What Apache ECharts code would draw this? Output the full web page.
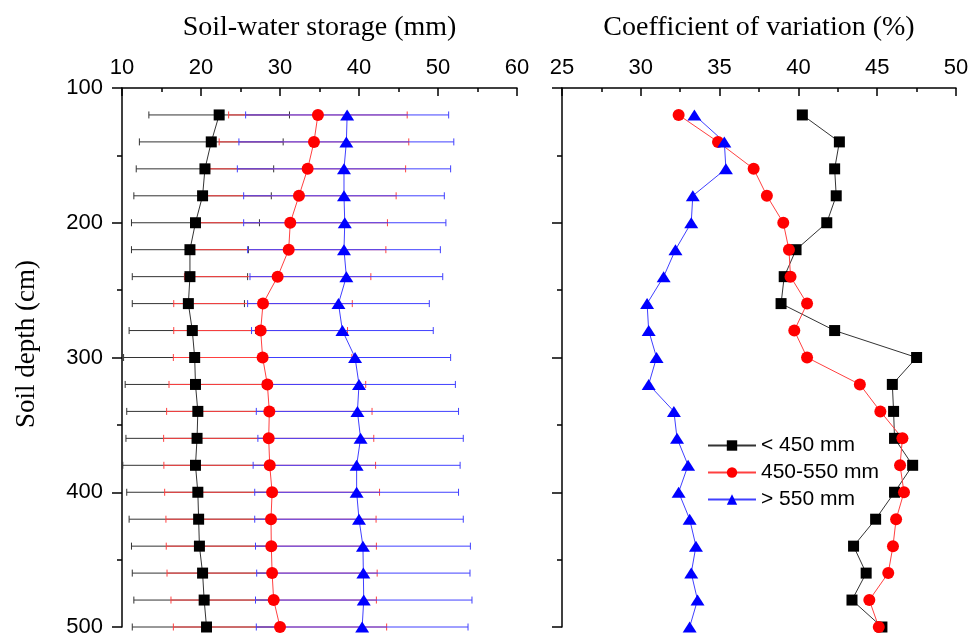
<!DOCTYPE html>
<html>
<head>
<meta charset="utf-8">
<script src="https://cdn.jsdelivr.net/npm/echarts@6/dist/echarts.min.js"></script>
<style>
  html, body { margin: 0; padding: 0; background: #fff; }
  #chart { width: 974px; height: 633px; }
</style>
</head>
<body>
<div id="chart"></div>
<script>
// soil depth of each layer (cm)
const depth = [120, 140, 160, 180, 200, 220, 240, 260, 280, 300,
               320, 340, 360, 380, 400, 420, 440, 460, 480, 500];

const seriesNames = ['< 450 mm', '450-550 mm', '> 550 mm'];

// soil-water storage mean (mm) and its error (+/-)
const storageLow = [22.3, 21.3, 20.5, 20.2, 19.3, 18.6, 18.6, 18.4, 18.9, 19.2,
                    19.3, 19.6, 19.5, 19.3, 19.6, 19.7, 19.8, 20.2, 20.4, 20.7];
const errLow = [8.9, 9.1, 8.7, 8.7, 8.1, 7.4, 7.3, 7.1, 8.0, 9.0,
                8.9, 9.0, 9.0, 9.2, 9.0, 8.8, 8.6, 8.9, 8.9, 9.4];

const storageMid = [34.8, 34.3, 33.5, 32.4, 31.3, 31.1, 29.7, 27.85, 27.55, 27.8,
                    28.4, 28.65, 28.57, 28.7, 29.0, 28.86, 28.9, 29.0, 29.2, 30.0];
const errMid = [11.3, 12.0, 12.4, 12.3, 12.3, 12.3, 11.8, 11.3, 11.0, 11.3,
                12.45, 13.0, 13.3, 13.4, 13.6, 13.3, 13.3, 13.3, 13.0, 13.5];

const storageHigh = [38.5, 38.4, 38.1, 38.1, 38.2, 38.1, 38.4, 37.4, 37.9, 39.5,
                     40.0, 39.8, 40.2, 39.7, 39.7, 40.0, 40.5, 40.55, 40.6, 40.4];
const errHigh = [12.85, 13.6, 13.5, 12.7, 12.8, 12.2, 12.2, 11.5, 11.5, 12.1,
                 12.2, 12.8, 13.0, 13.1, 12.9, 13.2, 13.6, 13.5, 13.7, 13.4];

// coefficient of variation (%)
const cvLow = [40.25, 42.6, 42.3, 42.4, 41.8, 39.85, 39.1, 38.9, 42.3, 47.5,
               45.96, 46.04, 46.1, 47.25, 46.1, 44.9, 43.5, 44.3, 43.4, 45.3];
const cvMid = [32.4, 34.9, 37.16, 38.0, 39.04, 39.4, 39.5, 40.55, 39.74, 40.55,
               43.9, 45.2, 46.6, 46.45, 46.7, 46.2, 46.0, 45.7, 44.5, 45.1];
const cvHigh = [33.4, 35.3, 35.4, 33.3, 33.2, 32.2, 31.45, 30.4, 30.5, 31.0,
                30.5, 32.1, 32.3, 33.0, 32.4, 33.1, 33.5, 33.2, 33.6, 33.1];

const xTicksLeft = { min: 10, max: 60, interval: 10 };
const xTicksRight = { min: 25, max: 50, interval: 5 };
const yTicks = { min: 100, max: 500, interval: 100 };

let myChart = echarts.init(document.getElementById('chart'));

const labelFont = 'Liberation Sans, Arial, sans-serif';
const titleFont = 'Liberation Serif, Times New Roman, serif';

function pairs(xs) {
  return xs.map((v, i) => [v, depth[i]]);
}

function errData(mean, err) {
  return mean.map((v, i) => [depth[i], v - err[i], v + err[i]]);
}

function errorBar(color) {
  return function (params, api) {
    let y = api.value(0);
    let p1 = api.coord([api.value(1), y]);
    let p2 = api.coord([api.value(2), y]);
    let h = 3.5;
    let style = { stroke: color, lineWidth: 1, fill: null };
    return {
      type: 'group',
      children: [
        { type: 'line', shape: { x1: p1[0], y1: p1[1], x2: p2[0], y2: p2[1] }, style: style },
        { type: 'line', shape: { x1: p1[0], y1: p1[1] - h, x2: p1[0], y2: p1[1] + h }, style: style },
        { type: 'line', shape: { x1: p2[0], y1: p2[1] - h, x2: p2[0], y2: p2[1] + h }, style: style }
      ]
    };
  };
}

function xAxis(idx, ticks, name) {
  return {
    gridIndex: idx,
    type: 'value',
    position: 'top',
    min: ticks.min,
    max: ticks.max,
    interval: ticks.interval,
    name: name,
    nameLocation: 'middle',
    nameGap: 46,
    nameTextStyle: { fontFamily: titleFont, fontSize: 28, color: '#000' },
    axisLine: { show: true, onZero: false, lineStyle: { color: '#000', width: 1.5 } },
    axisTick: { show: true, inside: true, length: 8, lineStyle: { color: '#000', width: 1.5 } },
    minorTick: { show: true, splitNumber: 2, length: 4, lineStyle: { color: '#000', width: 1.5 } },
    axisLabel: { fontFamily: labelFont, fontSize: 22, color: '#000', margin: 9 },
    splitLine: { show: false }
  };
}

function yAxis(idx, showLabel) {
  return {
    gridIndex: idx,
    type: 'value',
    inverse: true,
    min: yTicks.min,
    max: yTicks.max,
    interval: yTicks.interval,
    axisLine: { show: true, onZero: false, lineStyle: { color: '#000', width: 1.5 } },
    axisTick: { show: true, length: 10, lineStyle: { color: '#000', width: 1.5 } },
    minorTick: { show: true, splitNumber: 2, length: 5, lineStyle: { color: '#000', width: 1.5 } },
    axisLabel: { show: showLabel, fontFamily: labelFont, fontSize: 22, color: '#000', margin: 19 },
    splitLine: { show: false }
  };
}

const styles = [
  { color: '#000', line: '#333', symbol: 'rect', size: 11 },
  { color: '#ff0000', line: '#ff4040', symbol: 'circle', size: 12 },
  { color: '#0000ff', line: '#4040ff', symbol: 'triangle', size: [14, 11] }
];

function lineSeries(k, values, axisIdx) {
  return {
    name: seriesNames[k],
    type: 'line',
    xAxisIndex: axisIdx,
    yAxisIndex: axisIdx,
    data: pairs(values),
    symbol: styles[k].symbol,
    symbolSize: styles[k].size,
    itemStyle: { color: styles[k].color },
    lineStyle: { color: styles[k].line, width: 1 },
    z: 3
  };
}

function errSeries(k, mean, err) {
  return {
    type: 'custom',
    xAxisIndex: 0,
    yAxisIndex: 0,
    renderItem: errorBar(styles[k].line),
    encode: { x: [1, 2], y: 0 },
    data: errData(mean, err),
    z: 2
  };
}

let option = {
  animation: false,
  grid: [
    { left: 122, top: 88, width: 395, height: 539, outerBoundsMode: 'none' },
    { left: 562, top: 88, width: 394, height: 539, outerBoundsMode: 'none' }
  ],
  xAxis: [
    xAxis(0, xTicksLeft, 'Soil-water storage (mm)'),
    xAxis(1, xTicksRight, 'Coefficient of variation (%)')
  ],
  yAxis: [yAxis(0, true), yAxis(1, false)],
  legend: {
    orient: 'vertical',
    left: 702,
    top: 430,
    itemWidth: 48,
    itemHeight: 13,
    itemGap: 6,
    textStyle: { fontFamily: labelFont, fontSize: 21, color: '#000' },
    data: seriesNames
  },
  graphic: [
    {
      type: 'text',
      x: 27,
      y: 344,
      rotation: Math.PI / 2,
      style: {
        text: 'Soil depth (cm)',
        font: '27px ' + titleFont,
        fill: '#000',
        textAlign: 'center',
        textVerticalAlign: 'middle'
      }
    }
  ],
  series: [
    errSeries(0, storageLow, errLow),
    errSeries(1, storageMid, errMid),
    errSeries(2, storageHigh, errHigh),
    lineSeries(0, storageLow, 0),
    lineSeries(1, storageMid, 0),
    lineSeries(2, storageHigh, 0),
    lineSeries(0, cvLow, 1),
    lineSeries(1, cvMid, 1),
    lineSeries(2, cvHigh, 1)
  ]
};

myChart.setOption(option);
</script>
</body>
</html>
